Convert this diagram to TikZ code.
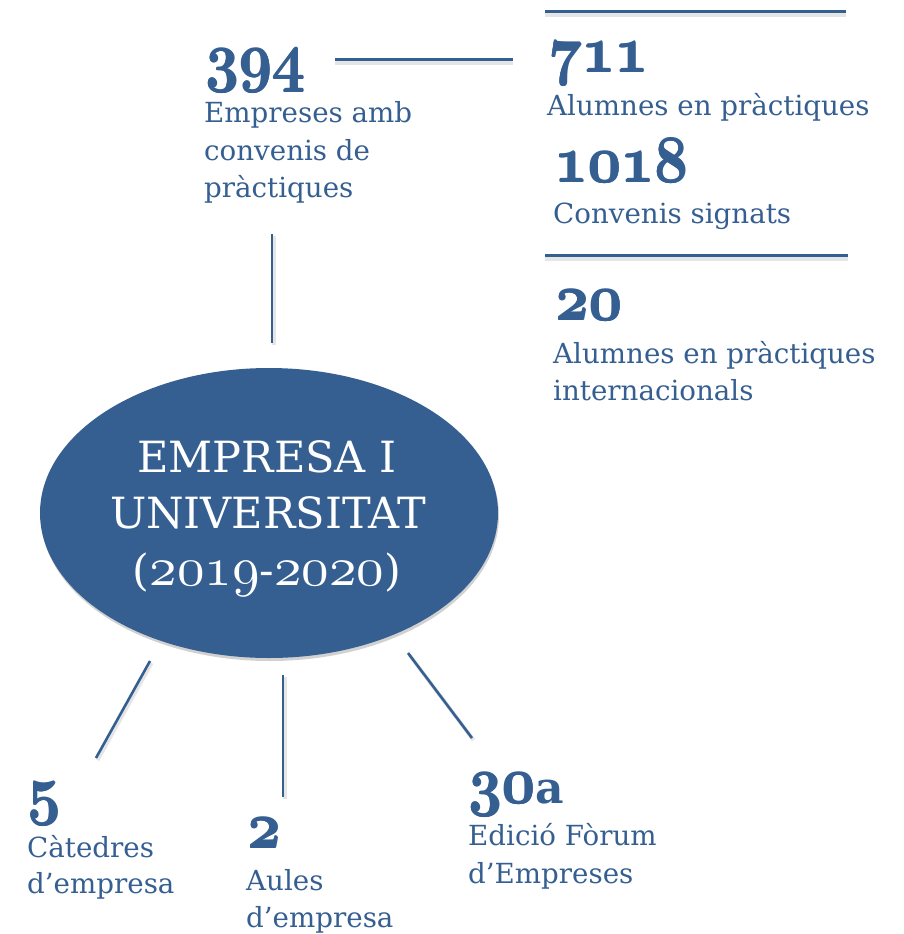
\documentclass[tikz,border=0pt]{standalone}
\usepackage{fontspec}
\setmainfont{DejaVu Serif}
\usepackage{graphicx}
\usetikzlibrary{shapes.geometric,shadows}
\DeclareFontFamily{OML}{mycmm}{\skewchar\font=127 }
\DeclareFontShape{OML}{mycmm}{m}{it}{<->cmmi10}{}
\DeclareFontShape{OML}{mycmm}{b}{it}{<->cmmib10}{}
\definecolor{ublue}{RGB}{54,95,145}
\newcommand\fbold[1]{\rlap{\kern1pt#1}\rlap{\kern0.5pt\raisebox{0.5pt}{#1}}\rlap{\kern0.5pt\raisebox{-0.5pt}{#1}}#1\kern1pt}
\newcommand\bignum[1]{\scalebox{1}[1.15]{\fontsize{58}{60}\usefont{OML}{mycmm}{b}{it}\fbold{#1}}}
\newcommand\osnum[1]{{\usefont{OML}{mycmm}{m}{it}#1}}
\begin{document}
\begin{tikzpicture}[x=1pt,y=1pt,
  lbl/.style={anchor=base west, inner sep=0pt, text=ublue, font=\fontsize{27.7}{32}\selectfont},
  num/.style={anchor=base west, inner sep=0pt, text=ublue},
  hubtext/.style={anchor=base, inner sep=0pt, text=white, font=\fontsize{43}{48}\selectfont},
  conn/.style={draw=ublue, line width=2.6pt},
  connshadow/.style={draw=black, opacity=0.10, line width=4pt, transform canvas={shift={(1.5pt,-2pt)}}},
  rule/.style={draw=ublue, line width=3pt},
  ruleshadow/.style={draw=black, opacity=0.10, line width=4pt, transform canvas={yshift=-3.5pt}},
]
\useasboundingbox (0,0) rectangle (903,-934);

% central ellipse
\node[ellipse, minimum width=458pt, minimum height=290pt, inner sep=0pt, fill=ublue,
      drop shadow={shadow xshift=1pt, shadow yshift=-3pt, opacity=0.3, fill=black!60}] (hub) at (269,-513) {};
\node[hubtext] (h1) at (267,-472) {EMPRESA I};
\node[hubtext] (h2) at (268,-528) {UNIVERSITAT};
\node[hubtext] (h3) at (267,-585) {(\fontsize{55}{58}\osnum{2019}\fontsize{43}{48}\selectfont-\fontsize{55}{58}\osnum{2020}\fontsize{43}{48}\selectfont)};

% top-left block
\node[num] (n394) at (205,-79) {\bignum{394}};
\node[lbl] (e1) at (204,-122) {Empreses amb};
\node[lbl] (e2) at (204,-160) {convenis de};
\node[lbl] (e3) at (204,-197) {pràctiques};

% top-right block
\node[num] (n711) at (548,-72) {\bignum{711}};
\node[lbl] (a1) at (547,-115) {Alumnes en pràctiques};
\node[num] (n1018) at (554,-182) {\bignum{1018}};
\node[lbl] (c1) at (553,-223) {Convenis signats};
\node[num] (n20) at (555,-320) {\bignum{20}};
\node[lbl] (i1) at (553,-363) {Alumnes en pràctiques};
\node[lbl] (i2) at (553,-400) {internacionals};

% bottom blocks
\node[num] (n5) at (27,-812) {\bignum{5}};
\node[lbl] (k1) at (27,-857) {Càtedres};
\node[lbl] (k2) at (27,-893) {d’empresa};
\node[num] (n2) at (247,-848) {\bignum{2}};
\node[lbl] (u1) at (246,-890) {Aules};
\node[lbl] (u2) at (246,-927) {d’empresa};
\node[num] (n30) at (468,-803) {\bignum{30}{\fontsize{44}{48}\selectfont\bfseries a}};
\node[lbl] (f1) at (468,-845) {Edició Fòrum};
\node[lbl] (f2) at (468,-883) {d’Empreses};

% connector end points
\coordinate (sa) at (335,-60);  \coordinate (sb) at (513,-60);
\coordinate (r1a) at (545,-12); \coordinate (r1b) at (846,-12);
\coordinate (r2a) at (545,-255); \coordinate (r2b) at (848,-255);
\coordinate (va) at (272,-234); \coordinate (vb) at (272,-343);
\coordinate (d1a) at (150,-661); \coordinate (d1b) at (96,-758);
\coordinate (d2a) at (283,-675); \coordinate (d2b) at (283,-797);
\coordinate (d3a) at (408,-653); \coordinate (d3b) at (472,-738);

% shadows
\draw[ruleshadow] (sa) -- (sb);
\draw[ruleshadow] (r1a) -- (r1b);
\draw[ruleshadow] (r2a) -- (r2b);
\draw[connshadow] (va) -- (vb);
\draw[connshadow] (d1a) -- (d1b);
\draw[connshadow] (d2a) -- (d2b);
\draw[connshadow] (d3a) -- (d3b);

% lines
\draw[rule] (sa) -- (sb);
\draw[rule] (r1a) -- (r1b);
\draw[rule] (r2a) -- (r2b);
\draw[conn] (va) -- (vb);
\draw[conn] (d1a) -- (d1b);
\draw[conn] (d2a) -- (d2b);
\draw[conn] (d3a) -- (d3b);
\end{tikzpicture}
\end{document}
